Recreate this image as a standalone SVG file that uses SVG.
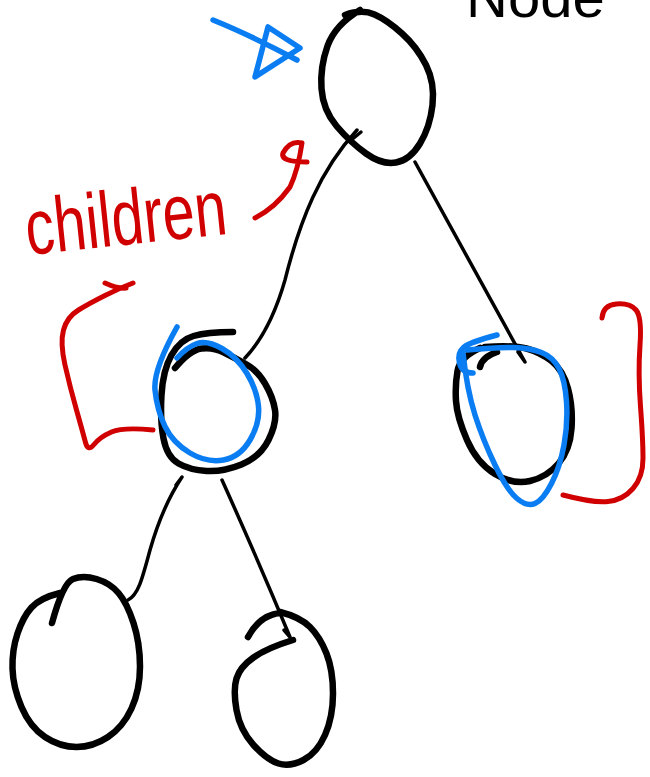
<svg xmlns="http://www.w3.org/2000/svg" width="650" height="777" viewBox="0 0 650 777">
<style>
.k{fill:none;stroke:#000;stroke-linecap:round;stroke-linejoin:round}
.node{stroke-width:6.5}
.edge{stroke-width:3.5}
.b{fill:none;stroke:#0a7df2;stroke-width:5.5;stroke-linecap:round;stroke-linejoin:round}
.r{fill:none;stroke:#d10000;stroke-width:5;stroke-linecap:round;stroke-linejoin:round}
.t{font-family:"Liberation Sans",Arial,sans-serif}
</style>
<rect width="650" height="777" fill="#fff"/>
<g id="connectors">
<path class="k edge" d="M357,130 C320,170 300,220 285,280 C275,315 262,340 245,358"/>
<path class="k edge" d="M350,141 L361,132"/>
<path class="k edge" d="M415,162 Q470,262 525,362 L518,352"/>
<path class="k edge" d="M128,600 C138,595 142,580 150,550 C160,515 170,495 182,477 L176,485"/>
<path class="k edge" d="M222,480 Q258,560 290,637 L284,630"/>
</g>
<g id="root">
<path class="k node" d="M360,10 Q335,25 327.5,46 Q320,67 321.5,88.5 Q323,110 336.5,126 Q350,142 366,153.5 Q382,165 396,162.5 Q410,160 420,143.5 Q430,127 432.5,105 Q435,83 426,65 Q417,47 402,33.5 Q387,20 374.5,14.5 Q362,9 345,15"/>
<text class="t" x="466" y="17" font-size="58" fill="#000">Node</text>
</g>
<g id="pointer">
<path class="b" d="M213,20 Q250,35 297,60"/>
<path class="b" d="M268,27 L255,77 L300,48 Z"/>
</g>
<g id="children-label">
<text class="t" x="0" y="0" font-size="56" fill="#d10000" textLength="202" lengthAdjust="spacingAndGlyphs" transform="translate(28,255) rotate(-6) scale(1,1.4)">children</text>
<path class="r" d="M255,218 Q275,208 290,187 Q298,170 302,143 Q290,140 283,153 Q280,162 307,162"/>
</g>
<g id="left-child">
<path class="k node" d="M175,368 Q190,350 201.5,348.5 Q213,347 223,352 Q233,357 245,363.5 Q257,370 265,383.5 Q273,397 275,410 Q277,423 268.5,440 Q260,457 241.5,464.5 Q223,472 206.5,471 Q190,470 178.5,463.5 Q167,457 163.5,438.5 Q160,420 161.5,395 Q163,370 171.5,355 Q180,340 193.5,336 Q207,332 233,332"/>
<path class="b" d="M177,327 Q153,370 155,390 Q157,410 165,426.5 Q173,443 190,453 Q207,463 223.5,460 Q240,457 250,440 Q260,423 258.5,406.5 Q257,390 247,373.5 Q237,357 222,348.5 Q207,340 197,343.5 Q187,347 177,358"/>
</g>
<g id="right-child">
<path class="k node" d="M480,348 Q460,357 457.5,371 Q455,385 456,401 Q457,417 467,440 Q477,463 495,474 Q513,485 530,481 Q547,477 558.5,463.5 Q570,450 571.5,428.5 Q573,407 568,388.5 Q563,370 551.5,361 Q540,352 526.5,348.5 Q513,345 485,347"/>
<path class="k node" d="M480,367 Q482,357 497,352"/>
<path class="b" d="M497,335 Q470,342 463.5,347.5 Q457,353 459.5,363 Q462,373 473,373"/>
<path class="b" d="M463,353 Q467,390 475,415 Q483,440 495,465 Q507,490 517,498.5 Q527,507 535,503.5 Q543,500 551.5,483.5 Q560,467 564,445 Q568,423 566.5,401.5 Q565,380 559,368.5 Q553,357 541.5,352.5 Q530,348 513.5,347.5 Q497,347 467,350"/>
</g>
<g id="brackets">
<path class="r" d="M153,430 Q123,427 111.5,432 Q100,437 94,444.5 Q88,452 85.5,442.5 Q83,433 76.5,410 Q70,387 65,365 Q60,343 63.5,330 Q67,317 78.5,310 Q90,303 105,295.5 Q120,288 133,283"/>
<path class="r" d="M105,283 Q118,289 126,288"/>
<path class="r" d="M602,318 Q603,305 616.5,304 Q630,303 636,310 Q642,317 640,345 Q638,373 640.5,406.5 Q643,440 643,458.5 Q643,477 633,488.5 Q623,500 608,501.5 Q593,503 563,495"/>
</g>
<g id="left-grandchild">
<path class="k node" d="M52,623 Q63,583 73,579 Q83,575 96.5,579 Q110,583 118.5,593 Q127,603 133.5,623 Q140,643 140,666.5 Q140,690 131.5,708.5 Q123,727 108,737 Q93,747 76.5,747 Q60,747 45,737 Q30,727 21.5,707 Q13,687 12.5,668.5 Q12,650 17.5,633.5 Q23,617 31.5,607.5 Q40,598 60,593"/>
</g>
<g id="right-grandchild">
<path class="k node" d="M248,637 Q260,615 280,613"/>
<path class="k node" d="M293,640 Q267,648 253.5,657.5 Q240,667 236.5,678.5 Q233,690 236.5,710 Q240,730 253.5,745 Q267,760 278.5,763.5 Q290,767 303.5,760 Q317,753 325,735 Q333,717 333,693.5 Q333,670 326.5,653.5 Q320,637 310,627 Q300,617 280,612"/>
</g>
</svg>
